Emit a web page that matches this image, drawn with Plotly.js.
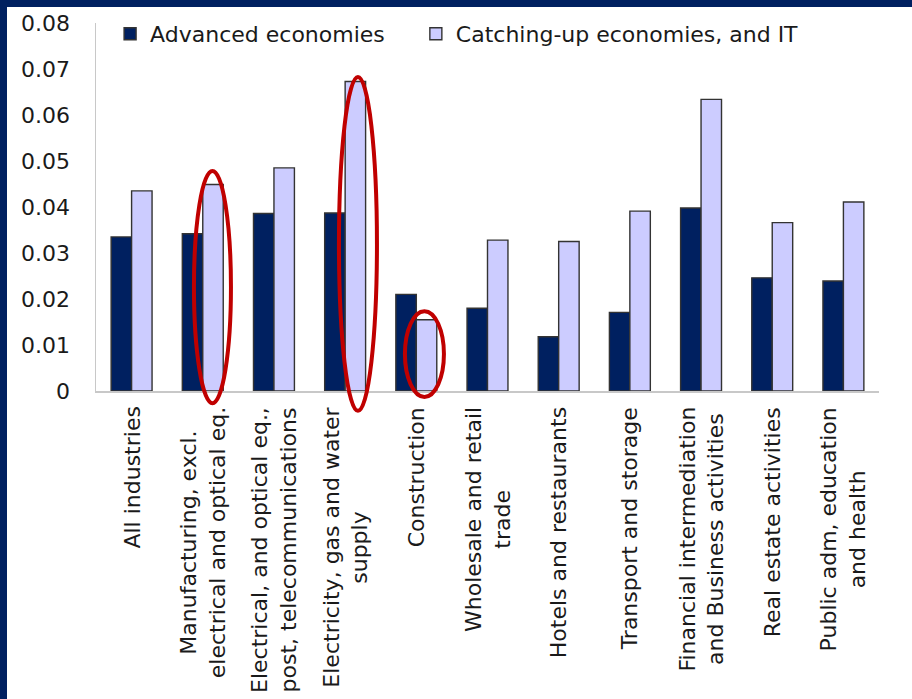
<!DOCTYPE html>
<html>
<head>
<meta charset="utf-8">
<script src="https://cdn.plot.ly/plotly-3.0.1.min.js"></script>
<style>
  html, body { margin: 0; padding: 0; background: #002060; width: 912px; height: 699px; overflow: hidden; }
  #chart { position: absolute; left: 7px; top: 7px; width: 905px; height: 692px; background: #ffffff; }
</style>
</head>
<body>
<div id="chart"></div>
<script>
// ---- data ----
const categories = [
  "All industries",
  "Manufacturing, excl.<br>electrical and optical eq.",
  "Electrical, and optical eq.,<br>post, telecommunications",
  "Electricity, gas and water<br>supply",
  "Construction",
  "Wholesale and retail<br>trade",
  "Hotels and restaurants",
  "Transport and storage",
  "Financial intermediation<br>and Business activities",
  "Real estate activities",
  "Public adm, education<br>and health"
];
const advanced = [0.0335, 0.0342, 0.0386, 0.0387, 0.0210, 0.0180, 0.0118, 0.0171, 0.0398, 0.0246, 0.0239];
const catchingUp = [0.0435, 0.0449, 0.0485, 0.0673, 0.0155, 0.0328, 0.0325, 0.0391, 0.0634, 0.0366, 0.0411];
const seriesNames = ["Advanced economies", "Catching-up economies, and IT"];
const yTicks = [0, 0.01, 0.02, 0.03, 0.04, 0.05, 0.06, 0.07, 0.08];
const yTickText = ["0", "0.01", "0.02", "0.03", "0.04", "0.05", "0.06", "0.07", "0.08"];
// highlighted categories (index of category)
const highlighted = [1, 3, 4];

// ---- style ----
const FONT = "DejaVu Sans, Verdana, sans-serif";
const TXT = "#1a1a1a";
const outline = { color: "#333333", width: 1.4 };

const traces = [
  { type: "bar", name: seriesNames[0], x: categories, y: advanced, legend: "legend",
    marker: { color: "#002060", line: outline } },
  { type: "bar", name: seriesNames[1], x: categories, y: catchingUp, legend: "legend2",
    marker: { color: "#CCCCFF", line: outline } }
];

const n = categories.length;
// ellipse extents around highlighted catching-up bars (category units from category start; y-domain fractions)
const ellipseSpec = {
  1: { dx0: 0.376, dx1: 0.896, y0: -0.033, y1: 0.598 },
  3: { dx0: 0.413, dx1: 0.947, y0: -0.054, y1: 0.853 },
  4: { dx0: 0.340, dx1: 0.888, y0: -0.016, y1: 0.217 }
};
const shapes = highlighted.map(i => {
  const s = ellipseSpec[i];
  return {
    type: "circle", xref: "x domain", yref: "y domain",
    x0: (i + s.dx0) / n, x1: (i + s.dx1) / n, y0: s.y0, y1: s.y1,
    line: { color: "#C00000", width: 4 }, fillcolor: "rgba(0,0,0,0)", layer: "above"
  };
});

const annotations = categories.map(c => ({
  x: c, xref: "x", y: 0, yref: "paper",
  text: c, textangle: -90, xanchor: "center", yanchor: "top",
  align: "center", showarrow: false, yshift: -14,
  font: { family: FONT, size: 22, color: TXT }
}));

const legendBase = {
  orientation: "h", xanchor: "left", y: 1.0, yanchor: "top",
  bgcolor: "rgba(0,0,0,0)", font: { family: FONT, size: 22, color: TXT }
};

const layout = {
  width: 905, height: 692,
  margin: { l: 89, r: 33, t: 6, b: 308 },
  paper_bgcolor: "#ffffff", plot_bgcolor: "#ffffff",
  font: { family: FONT, size: 22, color: TXT },
  barmode: "group", bargap: 0.425, bargroupgap: 0,
  showlegend: true,
  legend: Object.assign({}, legendBase, { x: 0.0180 }),
  legend2: Object.assign({}, legendBase, { x: 0.4085 }),
  xaxis: {
    type: "category", showticklabels: false, ticks: "",
    showline: true, linecolor: "#C8C8C8", linewidth: 1.5,
    showgrid: false, zeroline: false
  },
  yaxis: {
    range: [0, 0.08], domain: [0, 0.9735], tickvals: yTicks, ticktext: yTickText,
    showline: true, linecolor: "#C8C8C8", linewidth: 1.5,
    showgrid: false, zeroline: false, ticks: "",
    ticklabelstandoff: 20,
    tickfont: { family: FONT, size: 22, color: TXT }
  },
  shapes: shapes,
  annotations: annotations
};

Plotly.newPlot("chart", traces, layout, { displayModeBar: false, staticPlot: true });
</script>
</body>
</html>
